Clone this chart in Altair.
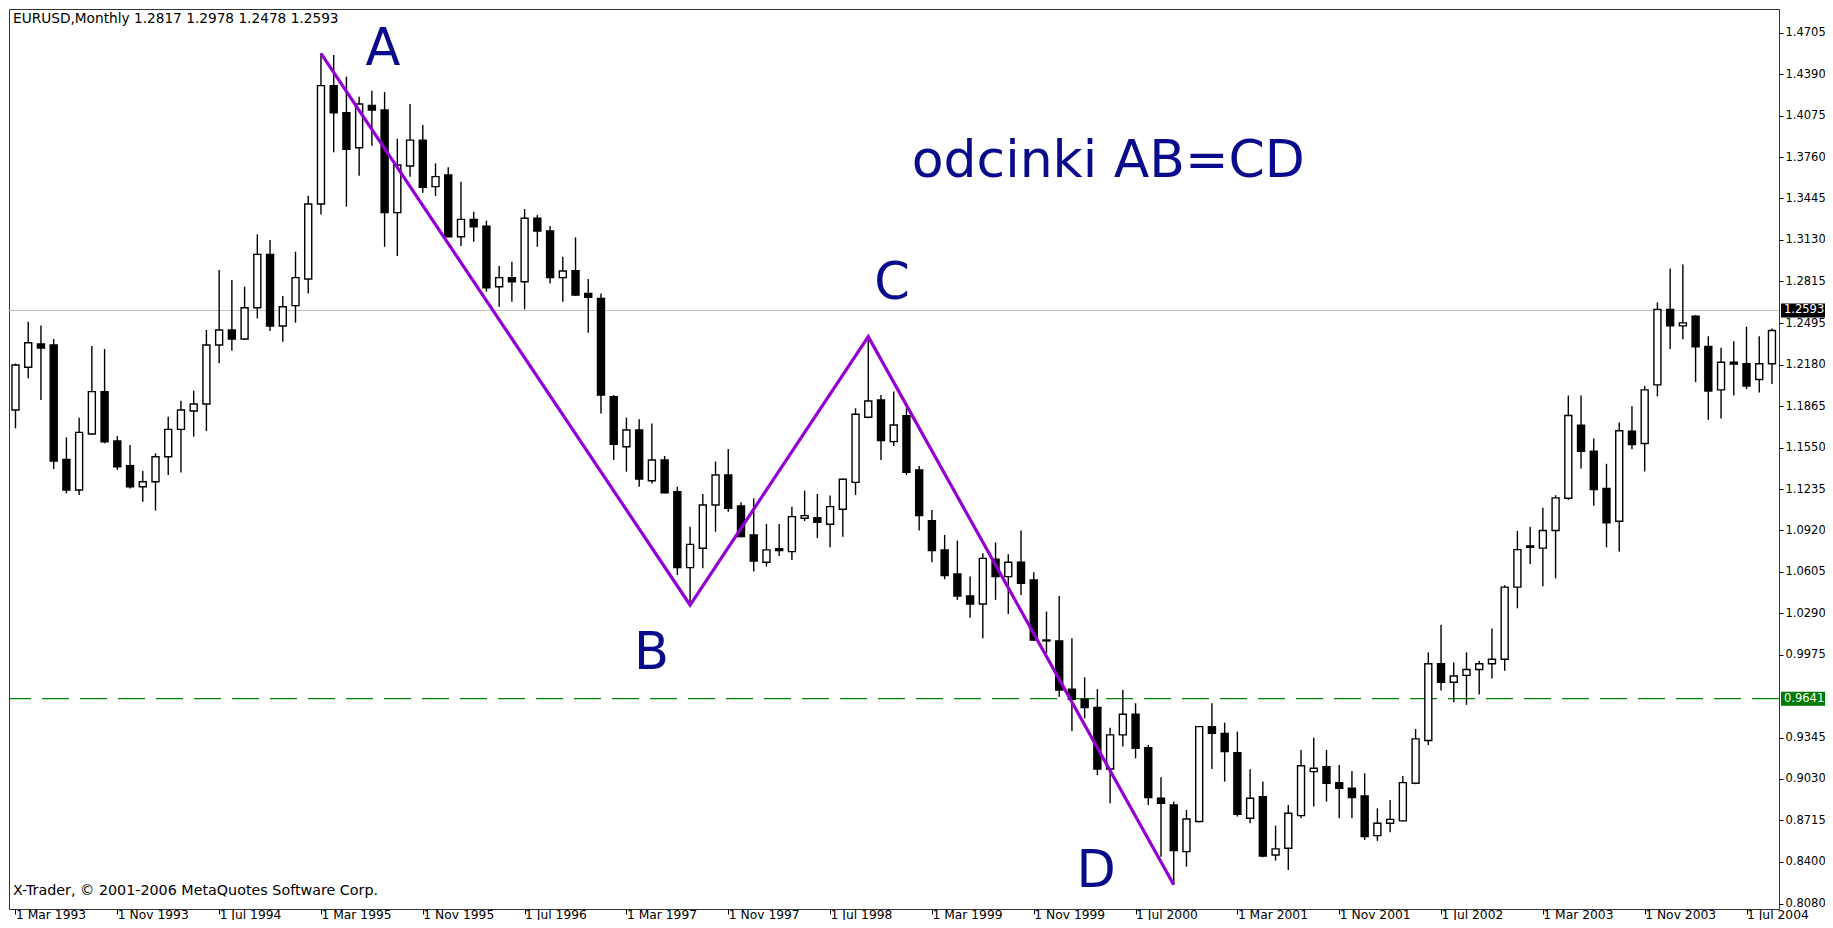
import altair as alt
import pandas as pd

# ---- monthly EURUSD candles, Mar 1993 .. Aug 2004 (index 0 = Mar 1993) ----
opens = [1.1836, 1.2161, 1.2338, 1.2330, 1.1461, 1.1228, 1.1654, 1.1976, 1.1600, 1.1413,
         1.1253, 1.1291, 1.1481, 1.1689, 1.1829, 1.1882, 1.2330, 1.2445, 1.2376, 1.2614,
         1.3020, 1.2475, 1.2630, 1.2833, 1.3403, 1.4303, 1.4097, 1.3831, 1.4153, 1.4118,
         1.3337, 1.3692, 1.3889, 1.3535, 1.3623, 1.3154, 1.3286, 1.3235, 1.2774, 1.2843,
         1.2812, 1.3294, 1.3197, 1.2843, 1.2895, 1.2723, 1.2685, 1.1937, 1.1557, 1.1684,
         1.1298, 1.1456, 1.1215, 1.0637, 1.0785, 1.1114, 1.1342, 1.1106, 1.0886, 1.0678,
         1.0782, 1.0759, 1.1013, 1.1018, 1.0967, 1.1081, 1.1286, 1.1781, 1.1913, 1.1596,
         1.1793, 1.1380, 1.0995, 1.0772, 1.0589, 1.0422, 1.0361, 1.0701, 1.0569, 1.0678,
         1.0544, 1.0087, 1.0080, 0.9712, 0.9636, 0.9573, 0.9106, 0.9365, 0.9522, 0.9268,
         0.8883, 0.8832, 0.8477, 0.8706, 0.9428, 0.9377, 0.9230, 0.8731, 0.8896, 0.8452,
         0.8503, 0.8751, 0.9086, 0.9124, 0.9002, 0.8959, 0.8901, 0.8599, 0.8693, 0.8711,
         0.8997, 0.9323, 0.9906, 0.9766, 0.9818, 0.9862, 0.9906, 0.9941, 1.0489, 1.0803,
         1.0786, 1.0920, 1.1165, 1.1721, 1.1523, 1.1240, 1.0990, 1.1675, 1.1581, 1.2027,
         1.2601, 1.2476, 1.2549, 1.2319, 1.1989, 1.2199, 1.2188, 1.2068, 1.2188]
highs = [1.2190, 1.2508, 1.2478, 1.2376, 1.1628, 1.1778, 1.2323, 1.2300, 1.1638, 1.1570,
         1.1372, 1.1507, 1.1785, 1.1907, 1.1983, 1.2445, 1.2901, 1.2825, 1.2774, 1.3172,
         1.3129, 1.2703, 1.3040, 1.3466, 1.4549, 1.4536, 1.4371, 1.4219, 1.4265, 1.4254,
         1.3900, 1.4163, 1.4004, 1.3712, 1.3682, 1.3573, 1.3344, 1.3276, 1.2931, 1.2964,
         1.3365, 1.3319, 1.3235, 1.3002, 1.3149, 1.2832, 1.2723, 1.1950, 1.1778, 1.1765,
         1.1734, 1.1486, 1.1253, 1.0949, 1.1198, 1.1444, 1.1540, 1.1134, 1.1165, 1.0970,
         1.0970, 1.1101, 1.1223, 1.1198, 1.1185, 1.1315, 1.1849, 1.2394, 1.1951, 1.1976,
         1.1849, 1.1411, 1.1076, 1.0886, 1.0843, 1.0569, 1.0746, 1.0828, 1.0739, 1.0919,
         1.0602, 1.0303, 1.0422, 1.0100, 0.9803, 0.9714, 0.9420, 0.9707, 0.9606, 0.9289,
         0.9043, 0.8858, 0.8794, 0.9433, 0.9606, 0.9458, 0.9390, 0.9104, 0.9010, 0.8675,
         0.8832, 0.9251, 0.9344, 0.9251, 0.9137, 0.9091, 0.9073, 0.8807, 0.8870, 0.9053,
         0.9410, 0.9993, 1.0203, 0.9915, 0.9993, 0.9929, 1.0174, 1.0503, 1.0917, 1.0949,
         1.1092, 1.1188, 1.1946, 1.1946, 1.1619, 1.1427, 1.1742, 1.1864, 1.2019, 1.2654,
         1.2913, 1.2942, 1.2558, 1.2397, 1.2310, 1.2360, 1.2470, 1.2397, 1.2456]
lows = [1.1697, 1.2077, 1.1912, 1.1387, 1.1202, 1.1190, 1.1650, 1.1583, 1.1380, 1.1240,
        1.1139, 1.1071, 1.1342, 1.1360, 1.1633, 1.1676, 1.2191, 1.2287, 1.2369, 1.2533,
        1.2437, 1.2356, 1.2500, 1.2723, 1.3324, 1.3796, 1.3383, 1.3618, 1.3846, 1.3078,
        1.3007, 1.3611, 1.3489, 1.3464, 1.3150, 1.3083, 1.3116, 1.2736, 1.2622, 1.2660,
        1.2602, 1.3078, 1.2799, 1.2660, 1.2703, 1.2424, 1.1810, 1.1456, 1.1367, 1.1253,
        1.1278, 1.1202, 1.0581, 1.0353, 1.0632, 1.0911, 1.1063, 1.0868, 1.0607, 1.0645,
        1.0726, 1.0696, 1.0992, 1.0861, 1.0792, 1.0873, 1.1190, 1.1773, 1.1456, 1.1563,
        1.1342, 1.0919, 1.0678, 1.0549, 1.0392, 1.0257, 1.0100, 1.0392, 1.0285, 1.0430,
        1.0080, 0.9990, 0.9656, 0.9395, 0.9491, 0.9060, 0.8845, 0.9276, 0.9187, 0.8832,
        0.8439, 0.8225, 0.8363, 0.8698, 0.9106, 0.9010, 0.8744, 0.8693, 0.8434, 0.8409,
        0.8338, 0.8731, 0.8820, 0.8858, 0.8731, 0.8731, 0.8566, 0.8559, 0.8624, 0.8706,
        0.8990, 0.9288, 0.9702, 0.9614, 0.9594, 0.9673, 0.9795, 0.9853, 1.0328, 1.0664,
        1.0495, 1.0556, 1.1153, 1.1392, 1.1107, 1.0792, 1.0760, 1.1538, 1.1369, 1.1940,
        1.2301, 1.2374, 1.2048, 1.1762, 1.1771, 1.1946, 1.1995, 1.1969, 1.2033]
closes = [1.2178, 1.2348, 1.2308, 1.1448, 1.1228, 1.1666, 1.1976, 1.1595, 1.1405, 1.1253,
          1.1291, 1.1481, 1.1689, 1.1836, 1.1882, 1.2330, 1.2445, 1.2376, 1.2614, 1.3020,
          1.2475, 1.2622, 1.2843, 1.3403, 1.4303, 1.4097, 1.3818, 1.4163, 1.4118, 1.3337,
          1.3699, 1.3889, 1.3529, 1.3611, 1.3154, 1.3286, 1.3230, 1.2766, 1.2843, 1.2812,
          1.3294, 1.3197, 1.2843, 1.2893, 1.2710, 1.2693, 1.1950, 1.1575, 1.1684, 1.1311,
          1.1456, 1.1207, 1.0637, 1.0814, 1.1114, 1.1342, 1.1089, 1.0873, 1.0688, 1.0772,
          1.0767, 1.1025, 1.1033, 1.0982, 1.1101, 1.1309, 1.1804, 1.1905, 1.1603, 1.1722,
          1.1363, 1.1033, 1.0767, 1.0577, 1.0422, 1.0361, 1.0708, 1.0569, 1.0678, 1.0518,
          1.0087, 1.0080, 0.9707, 0.9636, 0.9573, 0.9106, 0.9365, 0.9522, 0.9263, 0.8888,
          0.8845, 0.8485, 0.8726, 0.9428, 0.9377, 0.9238, 0.8761, 0.8883, 0.8444, 0.8498,
          0.8769, 0.9131, 0.9111, 0.8997, 0.8959, 0.8888, 0.8592, 0.8693, 0.8723, 0.9002,
          0.9335, 0.9906, 0.9766, 0.9813, 0.9862, 0.9906, 0.9941, 1.0489, 1.0774, 1.0792,
          1.0920, 1.1168, 1.1794, 1.1523, 1.1232, 1.0978, 1.1678, 1.1573, 1.1989, 1.2601,
          1.2476, 1.2499, 1.2316, 1.1981, 1.2199, 1.2185, 1.2019, 1.2188, 1.2441]
month_idx = list(range(len(opens)))

# bottom axis: every 8th month
date_tick_idx = list(range(0, 137, 8))
date_tick_labels = ["1 Mar 1993", "1 Nov 1993", "1 Jul 1994", "1 Mar 1995", "1 Nov 1995",
                    "1 Jul 1996", "1 Mar 1997", "1 Nov 1997", "1 Jul 1998", "1 Mar 1999",
                    "1 Nov 1999", "1 Jul 2000", "1 Mar 2001", "1 Nov 2001", "1 Jul 2002",
                    "1 Mar 2003", "1 Nov 2003", "1 Jul 2004"]
# right price axis
price_ticks = [1.4705, 1.4390, 1.4075, 1.3760, 1.3445, 1.3130, 1.2815, 1.2495, 1.2180,
               1.1865, 1.1550, 1.1235, 1.0920, 1.0605, 1.0290, 0.9975, 0.9345, 0.9030,
               0.8715, 0.8400, 0.8080]

# AB=CD pattern points (month index, price)
pattern_idx = [24, 53, 67, 91]
pattern_price = [1.4549, 1.0353, 1.2394, 0.8225]
letters = ["A", "B", "C", "D"]
letter_idx = [28.87, 49.96, 68.87, 84.9]
letter_price = [1.4460, 0.9867, 1.2680, 0.8211]

current_price = 1.2593
level_price = 0.9641
header = "EURUSD,Monthly  1.2817 1.2978 1.2478 1.2593"
footer = "X-Trader, \u00a9 2001-2006 MetaQuotes Software Corp."
caption = "odcinki AB=CD"
caption_idx = 85.86
caption_price = 1.3612

FONT = "DejaVu Sans"
BIG = "DejaVu Sans"
TEXT_BLUE = "#0a0a8c"

df = pd.DataFrame({"i": month_idx, "o": opens, "h": highs, "l": lows, "c": closes})
pat = pd.DataFrame({"i": pattern_idx, "p": pattern_price, "k": list(range(4))})
lab = pd.DataFrame({"i": letter_idx, "p": letter_price, "t": letters})
cap = pd.DataFrame({"i": [caption_idx], "p": [caption_price], "t": [caption]})
cur = pd.DataFrame({"p": [current_price], "t": ["%.4f" % current_price]})
lvl = pd.DataFrame({"p": [level_price], "t": ["%.4f" % level_price]})

xs = alt.Scale(domain=[-0.117, 138.16], nice=False, zero=False)
ys = alt.Scale(domain=[0.8041, 1.4886], nice=False, zero=False)

# labels start a little to the right of their tick (non-breaking space keeps the gap)
label_arr = "[" + ",".join("'\u00a0%s'" % s for s in date_tick_labels) + "]"
x_axis = alt.Axis(values=date_tick_idx, labelExpr=label_arr + "[round(datum.value / 8)]",
                  orient="bottom", domain=False, grid=False, tickSize=5, tickColor="black",
                  labelAlign="left", labelBaseline="top", labelPadding=-6,
                  labelFont=FONT, labelFontSize=12.3, labelColor="black", title=None,
                  labelOverlap=False, labelFlush=False)
y_axis = alt.Axis(values=price_ticks, format=".4f", orient="right", domain=False, grid=False,
                  tickSize=4, tickColor="black", labelPadding=2, labelFont=FONT,
                  labelFontSize=11.5, labelColor="black", title=None, labelOverlap=False,
                  labelFlush=False, labelBaseline="middle")


def X(f="i"):
    return alt.X(f + ":Q", scale=xs, axis=x_axis, title=None)


def Y(f):
    return alt.Y(f + ":Q", scale=ys, axis=y_axis, title=None)


wicks = alt.Chart(df).mark_rule(color="black", strokeWidth=1.4, clip=True).encode(
    x=X(), y=Y("l"), y2="h:Q")
bodies = alt.Chart(df).mark_bar(size=7, stroke="black", strokeWidth=1.4, clip=True).encode(
    x=X(), y=Y("o"), y2="c:Q",
    fill=alt.condition("datum.c >= datum.o", alt.value("white"), alt.value("black")))

cur_line = alt.Chart(cur).mark_rule(color="#c0c0c0", strokeWidth=1).encode(y=Y("p"))
lvl_line = alt.Chart(lvl).mark_rule(color="#008000", strokeWidth=1.2, strokeDash=[27, 11]).encode(y=Y("p"))

pattern = alt.Chart(pat).mark_line(color="#9400D3", strokeWidth=3.2, clip=True).encode(
    x=X(), y=Y("p"), order="k:Q")

letters_l = alt.Chart(lab).mark_text(font=BIG, fontSize=51, color=TEXT_BLUE, align="center",
                                     baseline="alphabetic").encode(x=X(), y=Y("p"), text="t:N")
caption_l = alt.Chart(cap).mark_text(font=BIG, fontSize=52, color=TEXT_BLUE, align="center",
                                     baseline="alphabetic").encode(x=X(), y=Y("p"), text="t:N")

cur_box = alt.Chart(cur).mark_tick(orient="horizontal", size=45, thickness=14, color="black",
                                   opacity=1, clip=False).encode(x=alt.value(1794.5), y=Y("p"))
cur_txt = alt.Chart(cur).mark_text(font=FONT, fontSize=11.5, color="white", align="left",
                                   baseline="middle").encode(x=alt.value(1775), y=Y("p"), text="t:N")
lvl_box = alt.Chart(lvl).mark_tick(orient="horizontal", size=45, thickness=14, color="#007a00",
                                   opacity=1, clip=False).encode(x=alt.value(1794.5), y=Y("p"))
lvl_txt = alt.Chart(lvl).mark_text(font=FONT, fontSize=11.5, color="white", align="left",
                                   baseline="middle").encode(x=alt.value(1775), y=Y("p"), text="t:N")

head_txt = alt.Chart(pd.DataFrame({"t": [header]})).mark_text(
    font=FONT, fontSize=13.7, color="black", align="left", baseline="middle").encode(
    x=alt.value(4), y=alt.value(10), text="t:N")
foot_txt = alt.Chart(pd.DataFrame({"t": [footer]})).mark_text(
    font=FONT, fontSize=14.3, color="black", align="left", baseline="middle").encode(
    x=alt.value(4), y=alt.value(882), text="t:N")

chart = alt.layer(
    cur_line, lvl_line, wicks, bodies, pattern, letters_l, caption_l,
    head_txt, foot_txt, cur_box, cur_txt, lvl_box, lvl_txt
).properties(
    width=1770, height=900,
    padding={"left": 1, "top": 1, "right": 46, "bottom": 11},
    autosize=alt.AutoSizeParams(type="none"),
    background="white",
).configure_view(stroke="#333333", strokeWidth=1)

chart.save("out.html", embed_options={"renderer": "svg", "actions": False})
